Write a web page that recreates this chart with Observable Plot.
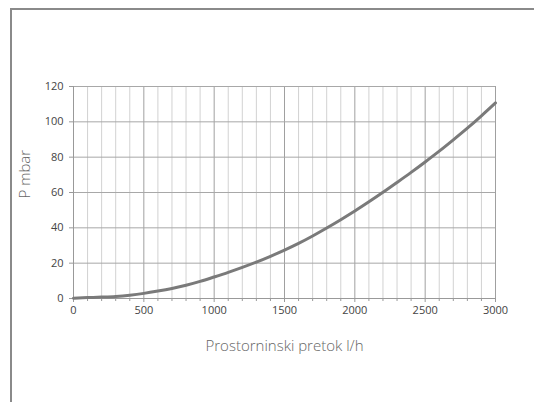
<!DOCTYPE html>
<html>
<head>
<meta charset="utf-8">
<script src="https://cdn.jsdelivr.net/npm/d3@7"></script>
<script src="https://cdn.jsdelivr.net/npm/@observablehq/plot@0.6"></script>
<style>
  html, body { margin: 0; padding: 0; background: #fff; }
  #wrap { position: relative; width: 534px; height: 402px; overflow: hidden; }
  #frame { position: absolute; left: 10px; top: 8px; width: 600px; height: 600px;
           border-top: 2px solid #8a8a8a; border-left: 2px solid #8a8a8a; }
  #chart { position: absolute; left: 0; top: 0; }
</style>
</head>
<body>
<div id="wrap"><div id="frame"></div><div id="chart"></div></div>
<script>
// Flow (l/h) and pressure loss (mbar)
const flow = [0, 100, 200, 300, 400, 500, 600, 700, 800, 900, 1000, 1100, 1200, 1300, 1400, 1500,
              1600, 1700, 1800, 1900, 2000, 2100, 2200, 2300, 2400, 2500, 2600, 2700, 2800, 2900, 3000];
const pressure = [0.2, 0.5, 0.8, 1.2, 1.9, 2.9, 4.2, 5.7, 7.5, 9.7, 12.2, 14.8, 17.6, 20.6, 23.9, 27.4,
                  31.2, 35.4, 39.9, 44.6, 49.5, 54.7, 60.1, 65.7, 71.4, 77.3, 83.4, 89.8, 96.4, 103.4, 110.7];
const xMajorTicks = [0, 500, 1000, 1500, 2000, 2500, 3000];
const xMinorTicks = [100,200,300,400,600,700,800,900,1100,1200,1300,1400,1600,1700,1800,1900,
                     2100,2200,2300,2400,2600,2700,2800,2900];
const yTicks = [0, 20, 40, 60, 80, 100, 120];
const xLabel = "Prostorninski pretok l/h";
const yLabel = "P mbar";

const data = flow.map((f, i) => ({flow: f, p: pressure[i]}));

const chart = Plot.plot({
  width: 534,
  height: 402,
  marginLeft: 73,
  marginRight: 39,
  marginTop: 86,
  marginBottom: 104,
  style: {fontFamily: "'Open Sans', sans-serif", fontSize: "11px", color: "#444", background: "transparent"},
  x: {domain: [0, 3000]},
  y: {domain: [0, 120]},
  marks: [
    Plot.ruleX(xMinorTicks, {stroke: "#d2d2d2", strokeWidth: 1, strokeOpacity: 1}),
    Plot.ruleX(xMajorTicks, {stroke: "#a0a0a0", strokeWidth: 1, strokeOpacity: 1}),
    Plot.ruleY(yTicks, {stroke: "#a8a8a8", strokeWidth: 1, strokeOpacity: 1}),
    Plot.axisX({ticks: xMinorTicks, tickSize: 3, text: null, label: null, stroke: "#999"}),
    Plot.axisX({ticks: xMajorTicks, tickSize: 4, tickPadding: 4, label: null, stroke: "#999", tickFormat: d => String(d)}),
    Plot.axisY({ticks: yTicks, tickSize: 4, tickPadding: 6, label: null, stroke: "#999", tickFormat: d => String(d)}),
    Plot.ruleY([0], {stroke: "#999"}),
    Plot.ruleX([0], {stroke: "#999"}),
    Plot.line(data, {x: "flow", y: "p", stroke: "#7a7a7a", strokeWidth: 3, curve: "monotone-x"}),
    Plot.text([xLabel], {frameAnchor: "bottom", dy: 52, fontSize: 15, fill: "#666", fontWeight: 300}),
    Plot.text([yLabel], {frameAnchor: "left", dx: -48, dy: 6, rotate: -90, fontSize: 15, fill: "#666", fontWeight: 300})
  ]
});
document.getElementById("chart").appendChild(chart);
</script>
</body>
</html>
